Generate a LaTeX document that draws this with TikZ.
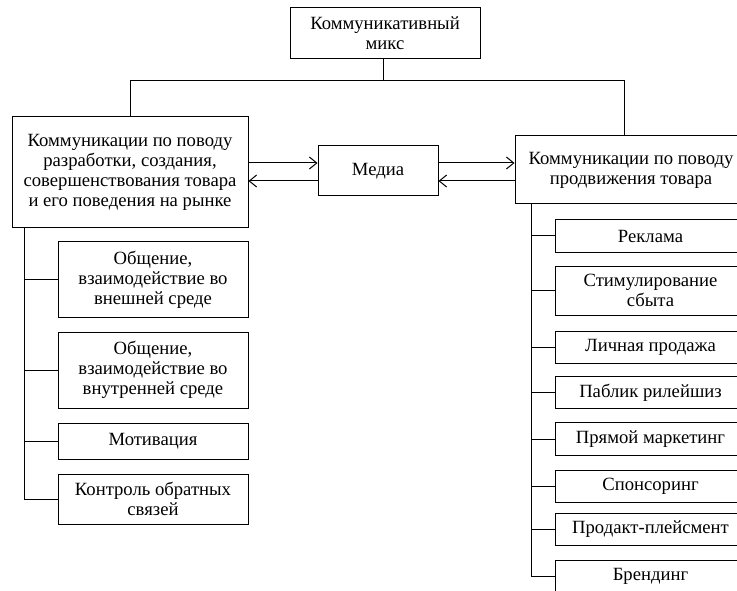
\documentclass[tikz,border=0pt]{standalone}
\usepackage{fontspec}
\setmainfont{Liberation Serif}
\usetikzlibrary{arrows.meta}
\tikzset{every picture/.style={line width=0.75pt}}

\begin{document}
\begin{tikzpicture}[x=0.75pt,y=0.75pt,yscale=-1,xscale=1,
		blk/.style={draw, align=center, inner sep=1pt, font=\fontsize{14}{15}\selectfont},
		lblk/.style={blk, minimum width=142.5pt},
		rblk/.style={blk, minimum width=143.25pt, minimum height=24.5pt},
		arr/.style={-{Straight Barb[length=5.5pt,width=9pt]}}]
		\useasboundingbox (0,0) rectangle (737,591);
		\clip (0,0) rectangle (737,591);
		
		% Text Node
		\node[blk, minimum width=142.5pt, minimum height=38.25pt] (mix) at (385,33.5) {Коммуникативный\\микс};
		% Text Node
		\node[blk, minimum width=177pt, minimum height=83.25pt] (dev) at (130,172.5) {Коммуникации по поводу\\разработки, создания,\\совершенствования товара\\и его поведения на рынке};
		% Text Node
		\node[blk, minimum width=90pt, minimum height=37.5pt] (media) at (378,171) {Медиа};
		% Text Node
		\node[blk, minimum width=174pt, minimum height=51pt] (prom) at (631,170) {Коммуникации по поводу\\продвижения товара};
		
		% Text Node
		\node[lblk, minimum height=56.25pt] (ext) at (153,279.5) {Общение,\\взаимодействие во\\внешней среде};
		% Text Node
		\node[lblk, minimum height=57pt] (int) at (153,370) {Общение,\\взаимодействие во\\внутренней среде};
		% Text Node
		\node[lblk, minimum height=27pt] (motiv) at (153,441) {Мотивация};
		% Text Node
		\node[lblk, minimum height=37.5pt] (ctrl) at (153,499) {Контроль обратных\\связей};
		
		% Text Node
		\node[rblk] (adv) at (650.5,236) {Реклама};
		% Text Node
		\node[rblk, minimum height=36.75pt] (sales) at (650.5,290.5) {Стимулирование\\сбыта};
		% Text Node
		\node[rblk] (pers) at (650.5,347.5) {Личная продажа};
		% Text Node
		\node[rblk] (pr) at (650.5,392.5) {Паблик рилейшиз};
		% Text Node
		\node[rblk] (direct) at (650.5,439) {Прямой маркетинг};
		% Text Node
		\node[rblk] (spons) at (650.5,486.5) {Спонсоринг};
		% Text Node
		\node[rblk] (place) at (650.5,529.5) {Продакт-плейсмент};
		% Text Node
		\node[rblk] (brand) at (650.5,576.5) {Брендинг};
		
		%Straight Lines (top bus)
		\coordinate (bus) at (383,81);
		\coordinate (ptop) at (624,81);
		\draw (mix.south -| bus) -- (bus);
		\draw (dev.north) |- (ptop) -- (ptop |- prom.north);
		
		%Straight Lines (arrows to and from media)
		\coordinate (mlu) at ([yshift=-6pt]media.west);
		\coordinate (mld) at ([yshift=7.5pt]media.west);
		\coordinate (mru) at ([yshift=-6pt]media.east);
		\coordinate (mrd) at ([yshift=7.5pt]media.east);
		\draw[arr] (dev.east |- mlu) -- (mlu);
		\draw[arr] (mld) -- (dev.east |- mld);
		\draw[arr] (mru) -- (prom.west |- mru);
		\draw[arr] (prom.west |- mrd) -- (mrd);
		
		%Straight Lines (left branches)
		\coordinate (lbus) at (24,228);
		\draw (dev.south -| lbus) |- (ctrl.west);
		\foreach \b in {ext,int,motiv}
			\draw (lbus |- \b.west) -- (\b.west);
		
		%Straight Lines (right branches)
		\coordinate (rbus) at (531,204);
		\draw (prom.south -| rbus) |- (brand.west);
		\foreach \b in {adv,sales,pers,pr,direct,spons,place}
			\draw (rbus |- \b.west) -- (\b.west);
		
	\end{tikzpicture}
\end{document}
